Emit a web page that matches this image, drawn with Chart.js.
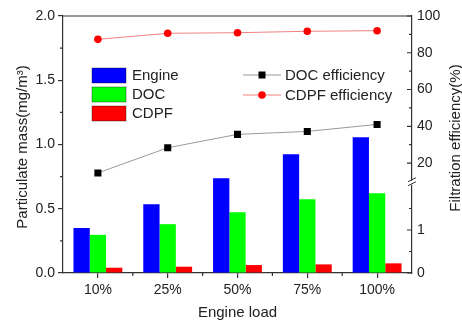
<!DOCTYPE html>
<html>
<head>
<meta charset="utf-8">
<script src="https://cdn.jsdelivr.net/npm/chart.js@4/dist/chart.umd.min.js"></script>
<style>
  html, body { margin: 0; padding: 0; background: #fff; }
  #c { display: block; }
</style>
</head>
<body>
<canvas id="c" width="462" height="324"></canvas>
<script>
// Engine load categories
const loads = ['10%', '25%', '50%', '75%', '100%'];

// Particulate mass (mg/m3) measured at engine out, after DOC and after CDPF
const engineMass = [0.35, 0.535, 0.737, 0.924, 1.056];
const docMass    = [0.297, 0.38, 0.472, 0.573, 0.62];
const cdpfMass   = [0.041, 0.049, 0.062, 0.067, 0.075];

// Filtration efficiency (%)
const docEfficiency  = [14.6, 28.3, 35.6, 37.2, 41.0];
const cdpfEfficiency = [87.3, 90.6, 90.9, 91.7, 92.0];

// Tick labels
const massTicks    = [0, 0.5, 1.0, 1.5, 2.0];
const massMinor    = [0.25, 0.75, 1.25, 1.75];
const effLowTicks  = [0, 1];
const effLowMinor  = [0.5, 1.5];
const effHighTicks = [20, 40, 60, 80, 100];
const effHighMinor = [30, 50, 70, 90];

const FONT = "'Liberation Sans', Arial, sans-serif";
const AXIS = '#333';
const TEXT = '#222';

const fixTicks = list => scale => { scale.ticks = list.map(v => ({ value: v })); };

const decorations = {
  id: 'decorations',
  afterDraw(chart) {
    const ctx = chart.ctx;
    const area = chart.chartArea;
    const { x, y, yLow, yHigh } = chart.scales;
    ctx.save();
    ctx.strokeStyle = AXIS;
    ctx.lineWidth = 1.2;

    // top frame
    ctx.beginPath();
    ctx.moveTo(area.left, area.top);
    ctx.lineTo(area.right, area.top);
    ctx.stroke();

    // minor ticks, left axis (outward)
    ctx.beginPath();
    massMinor.forEach(v => {
      const py = y.getPixelForValue(v);
      ctx.moveTo(area.left - 3, py);
      ctx.lineTo(area.left, py);
    });
    // minor ticks between categories (outward)
    for (let i = 0; i < loads.length - 1; i++) {
      const px = (x.getPixelForValue(i) + x.getPixelForValue(i + 1)) / 2;
      ctx.moveTo(px, area.bottom);
      ctx.lineTo(px, area.bottom + 3);
    }
    // right axis ticks (inward)
    const rTick = (scale, v, len) => {
      const py = scale.getPixelForValue(v);
      ctx.moveTo(area.right - len, py);
      ctx.lineTo(area.right, py);
    };
    effHighTicks.forEach(v => rTick(yHigh, v, 5));
    effHighMinor.forEach(v => rTick(yHigh, v, 3));
    effLowTicks.forEach(v => rTick(yLow, v, 5));
    effLowMinor.forEach(v => rTick(yLow, v, 3));
    ctx.stroke();

    // axis break between the two right-hand segments
    const yb = yLow.top;
    ctx.fillStyle = '#fff';
    ctx.fillRect(area.right - 2, yb - 2, 4, 4);
    ctx.beginPath();
    ctx.moveTo(area.right - 4, yb - 1);
    ctx.lineTo(area.right + 4, yb - 5);
    ctx.moveTo(area.right - 4, yb + 3);
    ctx.lineTo(area.right + 4, yb - 1);
    ctx.lineWidth = 1;
    ctx.stroke();

    // legend: particulate mass
    const bars = [
      ['Engine', '#0000ff'],
      ['DOC', '#00ff00'],
      ['CDPF', '#ff0000']
    ];
    ctx.font = '15px ' + FONT;
    ctx.textBaseline = 'middle';
    ctx.textAlign = 'left';
    bars.forEach(([label, color], i) => {
      const top = 68 + i * 19;
      ctx.fillStyle = color;
      ctx.fillRect(92, top, 34, 15);
      ctx.strokeStyle = 'rgba(0,0,0,0.45)';
      ctx.lineWidth = 0.8;
      ctx.strokeRect(92, top, 34, 15);
      ctx.fillStyle = TEXT;
      ctx.fillText(label, 132, top + 8);
    });

    // legend: efficiency lines
    const rows = [
      ['DOC efficiency', '#9a9a9a', '#000', 'rect'],
      ['CDPF efficiency', '#f28080', '#ff0000', 'circle']
    ];
    rows.forEach(([label, line, mark, shape], i) => {
      const cy = 75 + i * 20;
      ctx.strokeStyle = line;
      ctx.lineWidth = 1;
      ctx.beginPath();
      ctx.moveTo(243, cy);
      ctx.lineTo(281, cy);
      ctx.stroke();
      ctx.fillStyle = mark;
      if (shape === 'rect') {
        ctx.fillRect(258.5, cy - 3.5, 7, 7);
      } else {
        ctx.beginPath();
        ctx.arc(262, cy, 3.8, 0, Math.PI * 2);
        ctx.fill();
      }
      ctx.fillStyle = TEXT;
      ctx.fillText(label, 285, cy + 0.5);
    });

    // axis titles
    ctx.fillStyle = TEXT;
    ctx.font = '15px ' + FONT;
    ctx.textAlign = 'center';
    ctx.fillText('Engine load', (area.left + area.right) / 2, 313);

    ctx.save();
    ctx.translate(23, 147);
    ctx.rotate(-Math.PI / 2);
    ctx.fillText('Particulate mass(mg/m\u00B3)', 0, 0);
    ctx.restore();

    ctx.save();
    ctx.translate(456, 138);
    ctx.rotate(-Math.PI / 2);
    ctx.fillText('Filtration efficiency(%)', 0, 0);
    ctx.restore();

    ctx.restore();
  }
};

new Chart(document.getElementById('c'), {
  type: 'bar',
  data: {
    labels: loads,
    datasets: [
      { label: 'DOC efficiency', type: 'line', data: docEfficiency, yAxisID: 'yHigh', order: 0,
        borderColor: '#9a9a9a', borderWidth: 1, pointStyle: 'rect', pointRadius: 5,
        pointBackgroundColor: '#000', pointBorderColor: '#000', pointBorderWidth: 0, tension: 0 },
      { label: 'CDPF efficiency', type: 'line', data: cdpfEfficiency, yAxisID: 'yHigh', order: 0,
        borderColor: '#f28080', borderWidth: 1, pointStyle: 'circle', pointRadius: 3.8,
        pointBackgroundColor: '#ff0000', pointBorderColor: '#ff0000', pointBorderWidth: 0, tension: 0 },
      { label: 'Engine', data: engineMass, backgroundColor: '#0000ff', yAxisID: 'y', order: 1 },
      { label: 'DOC', data: docMass, backgroundColor: '#00ff00', yAxisID: 'y', order: 1 },
      { label: 'CDPF', data: cdpfMass, backgroundColor: '#ff0000', yAxisID: 'y', order: 1 }
    ]
  },
  options: {
    responsive: false,
    animation: false,
    devicePixelRatio: 1,
    layout: { padding: { top: 16, left: 0, right: 0, bottom: 0 } },
    datasets: { bar: { barPercentage: 1.0, categoryPercentage: 0.7, borderWidth: 0 } },
    plugins: { legend: { display: false }, tooltip: { enabled: false }, title: { display: false } },
    scales: {
      x: {
        afterFit: s => { s.height = 51; },
        grid: { display: true, drawOnChartArea: false, offset: false, tickLength: 5, color: AXIS, lineWidth: 1.2 },
        border: { display: true, color: AXIS, width: 1.2 },
        ticks: { font: { family: FONT, size: 14 }, color: TEXT, padding: 4, maxRotation: 0 }
      },
      y: {
        position: 'left',
        min: 0, max: 2,
        afterBuildTicks: fixTicks(massTicks),
        afterFit: s => { s.width = 63; },
        grid: { display: true, drawOnChartArea: false, tickLength: 5, color: AXIS, lineWidth: 1.2 },
        border: { display: true, color: AXIS, width: 1.2 },
        ticks: { font: { family: FONT, size: 14 }, color: TEXT, padding: 3, callback: v => v.toFixed(1) }
      },
      yHigh: {
        position: 'right', stack: 'eff', stackWeight: 166.7, weight: 0,
        min: 9.3, max: 100,
        afterBuildTicks: fixTicks(effHighTicks),
        afterFit: s => { s.width = 50; },
        grid: { display: false, drawTicks: false },
        border: { display: true, color: AXIS, width: 1.2 },
        ticks: { font: { family: FONT, size: 14 }, color: TEXT, padding: 5 }
      },
      yLow: {
        position: 'right', stack: 'eff', stackWeight: 90.3, weight: 1,
        min: 0, max: 2.1,
        afterBuildTicks: fixTicks(effLowTicks),
        afterFit: s => { s.width = 50; },
        grid: { display: false, drawTicks: false },
        border: { display: true, color: AXIS, width: 1.2 },
        ticks: { font: { family: FONT, size: 14 }, color: TEXT, padding: 5 }
      }
    }
  },
  plugins: [decorations]
});
</script>
</body>
</html>
